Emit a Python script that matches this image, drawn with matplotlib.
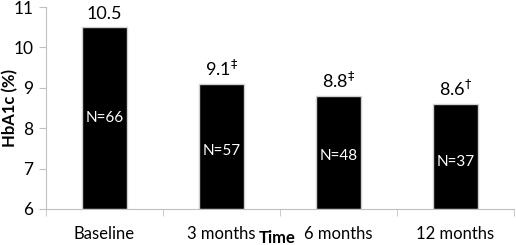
import matplotlib
matplotlib.use("Agg")
import matplotlib.pyplot as plt
import numpy as np

plt.rcParams['font.family'] = ['Lato', 'DejaVu Sans']

categories = ['Baseline', '3 months', '6 months', '12 months']
hba1c = [10.5, 9.1, 8.8, 8.6]
value_labels = ['10.5', '9.1$^{\u2021}$', '8.8$^{\u2021}$', '8.6$^{\u2020}$']
n_labels = ['N=66', 'N=57', 'N=48', 'N=37']
n_label_y = [8.25, 7.44, 7.32, 7.17]
yticks = [6, 7, 8, 9, 10, 11]

fig = plt.figure(figsize=(5.16, 2.45), dpi=100)
ax = fig.add_axes([0.089, 0.147, 0.907, 0.824])

x = np.arange(len(categories))
ax.bar(x, [v - 6 for v in hba1c], bottom=6, width=0.39, color='black',
       edgecolor='#d0d0d0', linewidth=1.0)

for xi, v, lab in zip(x, hba1c, value_labels):
    ax.text(xi, v + 0.12, lab, ha='center', va='bottom', fontsize=13)
for xi, ny, lab in zip(x, n_label_y, n_labels):
    ax.text(xi, ny, lab, ha='center', va='center', fontsize=11, color='white')

ax.set_ylim(6, 11)
ax.set_xlim(-0.5, len(categories) - 0.5)
ax.set_yticks(yticks)
ax.set_xticks(x)
ax.set_xticklabels(categories)
ax.set_xticks(np.arange(-0.5, len(categories)), minor=True)
ax.tick_params(axis='x', which='major', length=0, pad=12, labelsize=12)
ax.tick_params(axis='x', which='minor', length=5, color='#c0c0c0', direction='out')
ax.tick_params(axis='y', length=5, color='#c0c0c0', labelsize=12.5, pad=4)

for s in ['top', 'right']:
    ax.spines[s].set_visible(False)
for s in ['left', 'bottom']:
    ax.spines[s].set_color('#c0c0c0')

fig.text(0.019, 0.559, 'HbA1c (%)', rotation=90, ha='center', va='center',
         fontsize=12, fontweight='bold')
fig.text(0.537, 0.028, 'Time', ha='center', va='center',
         fontsize=12, fontweight='bold')

fig.savefig('out.png', dpi=100)
